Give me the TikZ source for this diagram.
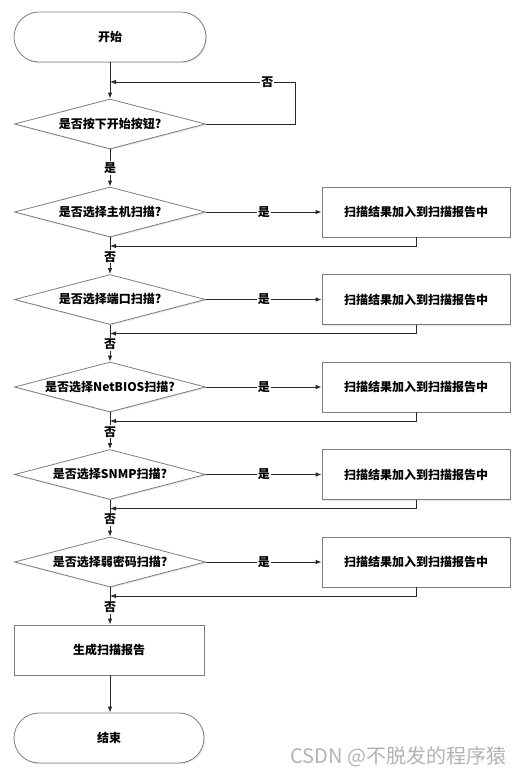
\documentclass[tikz,border=0pt]{standalone}
\usepackage{fontspec}
\setmainfont{Noto Sans CJK SC}
\usetikzlibrary{shapes.geometric,arrows.meta,shadows}
\definecolor{edgegray}{RGB}{125,125,125}
\definecolor{linegray}{RGB}{40,40,40}
\newcommand{\lblfont}{\fontsize{12}{14.5}\selectfont\bfseries}
\tikzset{
  base/.style={draw=edgegray, line width=0.8pt, fill=white, inner sep=0pt,
    font=\lblfont,
    drop shadow={opacity=0.18, shadow xshift=1.2pt, shadow yshift=-1.2pt}},
  term/.style={base, rectangle, rounded corners=25pt, minimum width=192pt, minimum height=50pt},
  decision/.style={base, diamond, minimum width=191pt, minimum height=50pt},
  procbox/.style={base, rectangle, minimum width=188pt, minimum height=50pt},
  arr/.style={draw=linegray, line width=0.8pt, -{Latex[length=6pt,width=4.5pt]}},
  lab/.style={fill=white, inner sep=1pt, font=\lblfont}
}
\begin{document}
\begin{tikzpicture}[x=1pt,y=-1pt]
\path[use as bounding box] (0,0) rectangle (531,777);

\node[term] (start) at (110,37) {开始};
\node[decision, label=center:{\lblfont 是否按下开始按钮?}] (d1) at (110,124) {};

\node[decision, label=center:{\lblfont 是否选择主机扫描?}] (d2) at (110,212) {};
\node[decision, label=center:{\lblfont 是否选择端口扫描?}] (d3) at (110,299.5) {};
\node[decision, label=center:{\lblfont 是否选择NetBIOS扫描?}] (d4) at (110,387) {};
\node[decision, label=center:{\lblfont 是否选择SNMP扫描?}] (d5) at (110,474.5) {};
\node[decision, label=center:{\lblfont 是否选择弱密码扫描?}] (d6) at (110,562) {};

\node[procbox] (b2) at (416,212) {扫描结果加入到扫描报告中};
\node[procbox] (b3) at (416,299.5) {扫描结果加入到扫描报告中};
\node[procbox] (b4) at (416,387) {扫描结果加入到扫描报告中};
\node[procbox] (b5) at (416,474.5) {扫描结果加入到扫描报告中};
\node[procbox] (b6) at (416,562) {扫描结果加入到扫描报告中};

\node[procbox, minimum width=190pt] (gen) at (109,650) {生成扫描报告};
\node[term, minimum width=190pt] (stop) at (109,738) {结束};

% loop
\coordinate (j1) at (110,82);
\coordinate (lr) at (295,82);
\draw[arr] (start.south) -- (d1.north);
\draw[arr] (d1.east) -| (lr) -- node[lab, pos=0.15]{否} (j1);
\draw[arr] (d1.south) -- node[lab]{是} (d2.north);

% yes branches
\foreach \i in {2,...,6} {
  \draw[arr] (d\i.east) -- node[lab]{是} (b\i.west);
}

% returns
\coordinate (r2) at (110,246);
\coordinate (r3) at (110,333.5);
\coordinate (r4) at (110,421);
\coordinate (r5) at (110,508.5);
\coordinate (r6) at (110,596);
\foreach \i in {2,...,6} {
  \draw[arr] (b\i.south) |- (r\i);
}

% no branches
\draw[arr] (d2.south) -- node[lab, pos=0.53]{否} (d3.north);
\draw[arr] (d3.south) -- node[lab, pos=0.53]{否} (d4.north);
\draw[arr] (d4.south) -- node[lab, pos=0.53]{否} (d5.north);
\draw[arr] (d5.south) -- node[lab, pos=0.53]{否} (d6.north);
\draw[arr] (d6.south) -- node[lab, pos=0.53]{否} (gen.north -| d6.south);
\draw[arr] (gen.south -| d6.south) -- (stop.north -| d6.south);

\node[anchor=east, text=gray!60, font=\fontsize{20}{22}\selectfont] (wm) at (510,757) {CSDN @不脱发的程序猿};
\end{tikzpicture}
\end{document}
